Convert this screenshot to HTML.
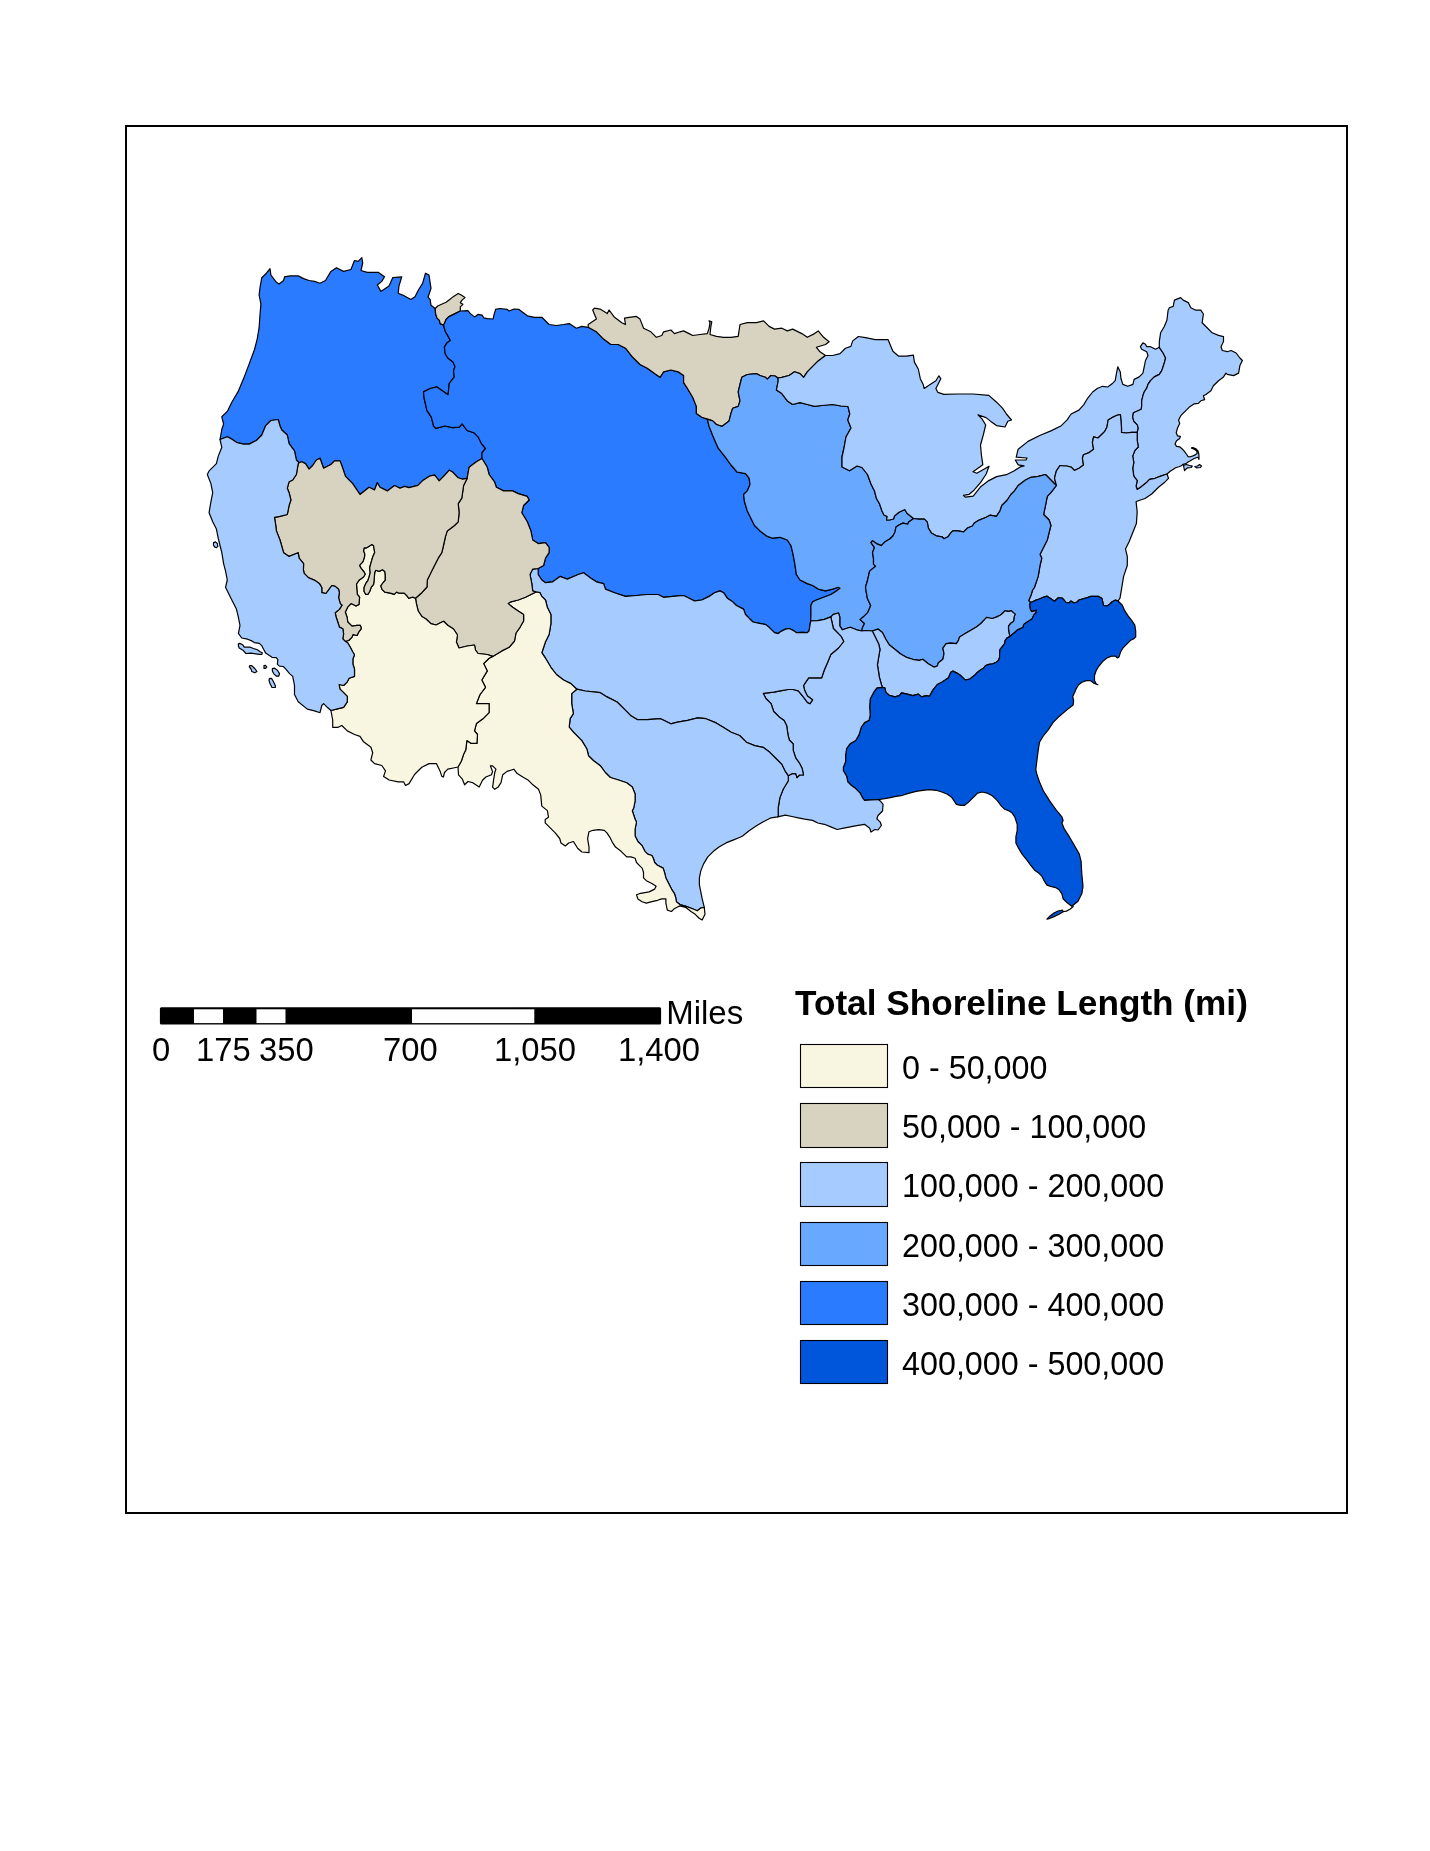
<!DOCTYPE html>
<html><head><meta charset="utf-8"><title>Total Shoreline Length</title>
<style>
html,body{margin:0;padding:0;background:#fff;}
body{width:1430px;height:1851px;position:relative;overflow:hidden;}
svg{position:absolute;left:0;top:0;will-change:transform;}
text{font-family:"Liberation Sans",sans-serif;fill:#000;}
</style></head>
<body>
<svg width="1430" height="1851" viewBox="0 0 1430 1851">
<rect x="126" y="126" width="1221" height="1387" fill="none" stroke="#000" stroke-width="2"/>
<g stroke="#000" stroke-width="1.2" stroke-linejoin="round">
<path fill="#2a7bff" d="M220 439.5 221.8 429.5 223.6 424 221.8 416.8 227.3 411.4 231.8 402.3 238.2 391.4 243.6 378.6 249.1 364.1 254.5 349.5 257.3 338.6 259.1 327.7 260 315 260.9 304.1 259.1 295 260 287.7 261.8 277.7 266.4 273.2 270 268.6 270.9 275 276.4 282.3 279 284 283.6 280.5 284.5 276.8 290 275.9 298.2 275.9 303.6 278.6 309 280.5 314.5 281.4 320 283.2 325.5 280.5 330.9 271.4 336.4 267.7 343.6 271.4 350.9 269.5 354.5 260.5 358.2 261.4 361.8 257.7 362.7 263.2 361 270.5 367.3 272.3 378.2 272.3 384.5 276.8 381.8 281.4 377.3 285 380.9 291.4 389 285.9 392.7 277.7 401.8 276.8 399 285.9 398.2 293.2 404.5 295.9 410.9 299.5 415 296.8 418.4 290 422.6 283.4 425.5 273.2 429 275 431 288.4 428 297.2 430.1 299.3 431 305.2 435.2 308.5 435.6 313.6 436.9 317.8 439.4 320.3 440.2 323.6 443.6 325.3 445.2 331.2 448.6 337.1 450.3 340.4 446.9 342.9 444.4 347.1 445.2 353.8 447.8 358 453 362 455 366.5 453.5 371 454.3 376.8 449.2 383.5 448.1 394.7 444.8 392.4 436.9 386.9 430.2 388.5 423.5 391.9 424.1 398 426.9 410.3 431.3 417.1 433.6 426 435.8 428.3 444.8 426 452.6 427.7 459.3 427.1 462.1 423.8 467.1 430.5 473.8 432.7 478.3 437.2 481.7 443.9 485.5 448.5 482 452.7 482 458.5 476.4 461.8 469.1 467.3 467.1 478.4 462.7 479.2 458.2 477.8 452.6 472 449.2 470.2 444.8 475.2 439.2 480.8 434.7 475.2 430.2 475.8 422.4 480.8 417.9 485.3 409 487.6 404.5 486.4 400 488.2 394.5 485.5 387.3 490.9 380 487.3 377.3 482.7 374.5 490 369.1 487.3 360 494.5 356.4 489.1 352.7 483.6 345.5 476.4 341.8 465.5 340 460.9 334.5 460.9 330.9 464.5 323.6 468.2 320 458.2 316.4 460 312.7 465.5 309.1 469.1 305.5 463.6 301.8 461.8 299.1 462.7 296.4 460 294.5 450.9 289.1 443.6 287.3 435 281.8 430 280 426 278.2 419.5 270.9 420.5 265.5 425.9 261.8 435 256.4 440.5 249.1 444.1 243.6 444.1 236.4 442.3 230.9 438.6 227.3 436.8Z"/>
<path fill="#d8d3c1" d="M435.2 308.5 437.7 306 446.1 302.2 449.4 299.7 453.6 296.4 458.2 293.4 461.2 295.1 465 297.6 462 300.1 460.3 302.7 462.9 304.3 460.3 306.9 460.3 311 453.6 314.4 448.6 316.9 446.1 319.4 443.6 325.3 440.2 323.6 439.4 320.3 436.9 317.8 435.6 313.6Z"/>
<path fill="#2a7bff" d="M460.3 311 467.9 310.6 470.4 313.6 474.6 316.9 478 314.4 482.2 315.2 483.8 317.8 487.2 318.6 493.1 319 493.9 315.2 495.6 309.4 499.8 308.5 507.3 309.4 509 311 514 309 519 309.4 523.3 312.7 527.4 315.8 534.5 317.3 541.8 317.3 549.1 324.5 556.4 325.5 563.6 324.5 569.1 323.6 576.4 328.2 581.8 326.4 588.2 327.3 596.4 331.8 603.6 339.1 610.9 344.5 618.2 344.5 625.5 348.2 632.7 357.3 640 364.5 647.3 368.2 654.5 373.6 660 377.3 663.6 371.8 670.9 370 678.2 371.8 683.6 375.5 683.6 382.7 687.3 388.2 692.7 397.3 696.4 406.4 696.4 413.6 701.8 417.3 707.3 419.1 709.1 426.4 712.7 435.5 718.2 448.2 725.5 457.3 731 465 737 472 745.5 473.6 749.1 478.2 750 484.5 747.3 490.9 743.6 494.5 744.5 501.8 747.3 510.9 750.9 518.2 754.5 525.5 760 530.9 767.3 536.4 772.7 538.2 780 537.3 787.3 540 790.9 545.5 792.7 552.7 794.5 561.8 796.4 574.5 800 580 807.3 583.6 812.7 585.5 818.2 589.1 825.5 590.9 832.7 589.1 838.2 587.3 840 588.2 836.4 590.9 830.9 594.5 823.6 597.3 816.4 600 812.7 601.8 810.9 605.5 810.9 614.5 810.7 620.8 810 625 809.1 630.9 807.3 632.7 802.2 632.4 796.4 632.7 794.5 631.1 789.3 628.5 785.5 629.1 781.5 631.1 778.2 633.6 774.5 632.7 769.1 627.3 765.9 624.6 759.4 623.3 753 622 749.1 618.2 745.5 614.5 743.6 609.1 736.4 605.5 732.7 601.8 727.3 598.2 723.6 592.7 720 590.9 714.5 592.7 709.1 596.4 701.8 600 694.5 600.9 689.1 598.2 683.6 595.5 672.7 596.4 663.6 597.3 658.2 594.5 647.3 594.5 636.4 595.5 625.5 596.4 614.5 592.7 605.5 589.1 603.6 583.6 596.4 581.8 590.9 578.2 583.6 572.7 578.2 574.5 567.3 579.1 560 576.4 552.7 581.8 545.5 582.7 541.8 580 538.2 574.5 538.2 568.5 543.6 565.5 545.5 558.2 549.1 552.7 549.1 547.3 545.5 542.7 538.2 543.6 532.7 540 530.9 530.9 527.3 521.8 521.8 512.7 523.6 505.5 529.1 500 527.3 496.4 518.2 493.6 512.7 490.9 503.6 490.9 496.4 487.3 494.5 481.8 489.1 474.5 487.3 467.3 482 458.5 482 452.7 485.5 448.5 481.7 443.9 478.3 437.2 473.8 432.7 467.1 430.5 462.1 423.8 459.3 427.1 452.6 427.7 444.8 426 435.8 428.3 433.6 426 431.3 417.1 426.9 410.3 424.1 398 423.5 391.9 430.2 388.5 436.9 386.9 444.8 392.4 448.1 394.7 449.2 383.5 454.3 376.8 453.5 371 455 366.5 453 362 447.8 358 445.2 353.8 444.4 347.1 446.9 342.9 450.3 340.4 448.6 337.1 445.2 331.2 443.6 325.3 446.1 319.4 448.6 316.9 453.6 314.4Z"/>
<path fill="#d8d3c1" d="M588.2 327.3 588.2 324.5 596.4 319.1 592.7 310 594.5 308.2 600 309.1 607.3 313.6 609.1 310 614.5 317.3 621.8 322.7 625.5 324.5 624.5 318.2 629.1 317.3 636.4 316.4 640 319.1 643.6 328.2 650.9 331.8 656.4 337.3 661.8 335.5 663.6 331.8 670.9 330 674.5 333.6 680 331.8 683.6 330.9 689.1 333.6 692.7 335.5 700 334.5 707.3 333.6 709.1 328.2 710 322.7 709.1 320.9 711.8 321.8 710.9 326.4 710 334.5 716.4 336.4 723.6 337.3 730.9 337.3 738.2 336.4 740 324.5 747.3 322.7 756.4 322.7 763.6 320.9 769.1 326.4 774.5 329.1 781.8 328.2 787.3 330.9 792.7 329.1 801.8 333.6 807.3 337.3 814.5 333.6 818.2 330.9 823.6 337.3 829.1 341.8 825.5 344.5 816.4 347.3 820 351.8 825.5 355.5 818.2 360.9 812.7 366.4 807.3 371.8 803.6 377.3 800 373.6 794.5 371.8 789.1 375.5 781.8 377.3 778 378 775 376 770.9 375.5 767.3 379.1 765.5 377.3 760 375.5 756.4 373.6 747.3 374.5 741.8 377.3 740 384.5 738.2 391.8 740 400.9 738.2 406.4 732.7 408.2 730.9 413.6 729.1 420.9 721.8 426.4 716.4 424.5 712.7 420.9 707.3 419.1 701.8 417.3 696.4 413.6 696.4 406.4 692.7 397.3 687.3 388.2 683.6 382.7 683.6 375.5 678.2 371.8 670.9 370 663.6 371.8 660 377.3 654.5 373.6 647.3 368.2 640 364.5 632.7 357.3 625.5 348.2 618.2 344.5 610.9 344.5 603.6 339.1 596.4 331.8Z"/>
<path fill="#68a8ff" d="M707.3 419.1 712.7 420.9 716.4 424.5 721.8 426.4 729.1 420.9 730.9 413.6 732.7 408.2 738.2 406.4 740 400.9 738.2 391.8 740 384.5 741.8 377.3 747.3 374.5 756.4 373.6 760 375.5 765.5 377.3 767.3 379.1 770.9 375.5 775 376 778 378 778.2 381 776.4 390 781.8 393.6 787.3 400.9 792.7 404.5 800 402.7 807.3 404.5 814.5 406.4 821.8 405.5 832.7 404.5 841 406 848 406.5 849.8 414 847.8 420 851 428 846 437 844 448 842 457 842 467 849.5 470.8 857 466 862 467.5 867.5 474.5 871 484 874.5 491 876.5 498.6 879.4 503.5 882 511 884 515 887.2 516.5 886.5 520 889.5 520 893.5 519 894.5 516 899 512.3 904.8 509.5 907 513.3 910.7 516.2 913.6 518.5 908.7 522.1 907.8 524.1 902.9 523.1 899 525 896 527 895 531.9 893.1 535.8 890.1 538.7 885.2 541.7 881.3 545.6 876.4 543.6 872.5 540.7 871 542.7 874.5 547.6 872.5 552.4 873.5 558.3 873.5 564.2 875.5 566.2 869.6 571.1 867.6 580 865.5 587.3 867.3 598.2 870.7 605.6 867.9 612.3 863.4 616.8 860.1 619.6 864.5 623.5 862.3 628 861.9 631 856.7 629.8 850.2 627.2 842.4 629.8 839.8 625.9 839.8 616.9 838.5 613 833.4 614.3 830.8 616.9 824.3 619.4 817.8 620.7 810.7 620.8 810.9 614.5 810.9 605.5 812.7 601.8 816.4 600 823.6 597.3 830.9 594.5 836.4 590.9 840 588.2 838.2 587.3 832.7 589.1 825.5 590.9 818.2 589.1 812.7 585.5 807.3 583.6 800 580 796.4 574.5 794.5 561.8 792.7 552.7 790.9 545.5 787.3 540 780 537.3 772.7 538.2 767.3 536.4 760 530.9 754.5 525.5 750.9 518.2 747.3 510.9 744.5 501.8 743.6 494.5 747.3 490.9 750 484.5 749.1 478.2 745.5 473.6 737 472 731 465 725.5 457.3 718.2 448.2 712.7 435.5 709.1 426.4Z"/>
<path fill="#a6cbff" d="M825.5 355.5 832.7 355.5 840 353.6 845.5 348.2 850.9 346.4 852.7 340.9 858.4 336.5 865.5 337.6 875.2 339.6 888 339.6 892.9 351.3 898.7 356.2 906.6 356.2 913.4 355.2 914.4 362.1 918.3 369 920.3 378.7 923.2 384.6 924.2 388.5 930.1 384.6 935.9 380.7 938.9 375.8 940.8 378.7 935.9 388.5 937.9 392.4 943.8 394.4 957.5 394 973.2 394 988.8 395.4 996.6 402.2 1002.5 408.1 1006.4 414 1011.5 420 1007.8 421.3 1005 427 996.5 425.6 990.8 421.4 986 417.6 978 414.8 982 418.9 985.7 425 983.4 434.5 980.5 445 981.4 455 982.8 464.7 977.6 468.5 973 471.8 976.8 473.2 985.2 468.5 989 466.2 986.2 474 980.5 482.6 974 490.2 969.2 494.3 963.4 495.3 965.3 497.2 973.2 496.2 981 486.4 988.8 480.6 996.6 476.6 1006.4 474.7 1014.3 470.8 1020.1 466.9 1024.1 465.9 1018.2 464.9 1015.3 460 1026 460 1027 458 1016.2 457.1 1018.2 449.2 1028 441.4 1039.7 435.5 1051.5 430.6 1061.3 425.7 1067.1 419.9 1071.1 414 1078.9 410.1 1083.8 404.6 1087.6 398.3 1092.6 392 1097.6 388.2 1102.7 386.3 1107.7 387 1112.7 383.2 1115.2 380.7 1116.5 373.1 1117.8 366.8 1120.3 371.9 1120.9 378.2 1122.8 384.4 1127.8 386.3 1132.9 384.4 1134.1 379.4 1139.2 376.9 1142.9 373.1 1144.2 366.8 1145.5 360.5 1148 355.5 1146.7 351.7 1141.7 349.2 1140.4 346.7 1142.9 342.9 1145.5 344.2 1146.7 346.7 1150.5 346.7 1155.5 349.2 1159.3 347.3 1163.1 353 1165.6 358 1164.3 363 1161.8 370.6 1159.3 374.4 1154.3 376.9 1150.5 380.7 1148 384.4 1146.7 388.2 1144.2 392 1142.9 395.8 1141.7 400.8 1141.7 405.8 1141.2 409.3 1137.5 411 1133.4 412.8 1132.7 416.8 1133.8 421.3 1137.2 424.6 1138.3 428 1137.2 432.4 1131.6 432.4 1126 433 1121.5 432.4 1121.5 428 1121 421.3 1120.4 414.5 1115.9 415.7 1111.5 417.9 1108.1 420.1 1107 426.9 1104.8 431.3 1101.4 434.7 1098 438 1093.6 436.9 1092.4 442.5 1093.6 449.2 1089.1 452.6 1083.5 454.8 1082.4 458.2 1083.5 464.9 1079 468.3 1074.5 470.5 1071.2 467.1 1066.7 466 1063.4 466 1060 465.5 1056.4 470.9 1054.5 478.2 1056.4 485.5 1050.9 480 1045.5 474.5 1038.2 476.4 1030.9 477.3 1025.5 480 1018.2 485.5 1014.5 490.9 1010.9 494.5 1007.3 500 1001.8 505.5 1000 510.9 996.4 516.4 990 515.2 986.1 517.2 979.2 520.1 974.3 523.1 972.4 526 967.5 528 963.6 531.9 957.7 530.9 952.8 530.9 950.8 532.9 947.9 536.8 944 538.7 942 536.8 936.2 535.8 931.3 532.9 928.3 528 927.3 522.1 924.4 519.2 918.5 519.2 913.6 518.5 910.7 516.2 907 513.3 904.8 509.5 899 512.3 894.5 516 893.5 519 889.5 520 886.5 520 887.2 516.5 884 515 882 511 879.4 503.5 876.5 498.6 874.5 491 871 484 867.5 474.5 862 467.5 857 466 849.5 470.8 842 467 842 457 844 448 846 437 851 428 847.8 420 849.8 414 848 406.5 841 406 832.7 404.5 821.8 405.5 814.5 406.4 807.3 404.5 800 402.7 792.7 404.5 787.3 400.9 781.8 393.6 776.4 390 778.2 381 778 378 781.8 377.3 789.1 375.5 794.5 371.8 800 373.6 803.6 377.3 807.3 371.8 812.7 366.4 818.2 360.9Z"/>
<path fill="#a6cbff" d="M1159.3 347.3 1159.3 341.6 1160.6 332.8 1164.3 326.5 1166.9 320.2 1168.1 310.2 1169.4 307.7 1173.2 306.4 1174.4 300.1 1180.7 297.6 1183.2 300.1 1188.3 302.6 1190.8 307.7 1195.8 310.2 1200.8 310.2 1203.4 314 1202.1 322.8 1205.9 326.5 1212.2 332.8 1218.5 335.4 1223.5 336.6 1223.5 341.6 1221 346.7 1222.3 350.5 1227.3 351.7 1231.1 350.5 1236.1 353 1239.9 358 1242.4 360.5 1239.9 365.6 1238.6 373.1 1233.6 375.6 1227.3 374.4 1226 373.1 1223.5 376.9 1218.5 380.7 1213.4 385.7 1210.9 390.7 1205.9 394.5 1203.4 395.8 1204.6 399.6 1200.8 400.8 1198.3 403.3 1194.3 403.8 1189.8 406.7 1185.3 411.2 1180.8 415.7 1178.6 420.1 1179.7 423.5 1177.5 428 1176.2 432.8 1177.6 435.9 1180.4 436.3 1179.7 438.4 1176.5 440.8 1175.1 444 1176.5 446.4 1179.7 446.8 1182.5 449.2 1184.6 451.7 1186.7 454.5 1188.1 456.6 1190.2 456.8 1193 455.9 1195.6 454.6 1197.2 453.6 1196.8 451.2 1195.2 449.8 1193 448.6 1191.5 448.2 1191.8 447.5 1193.4 447.7 1196 448.8 1197.9 450.8 1198.8 453.6 1199 456.5 1198.9 459.4 1198.2 457.6 1197.5 457.3 1193.7 458.7 1190.2 460.8 1187.7 462.2 1186 463.6 1183.2 464.3 1181.4 465.7 1179 466.7 1175.5 467.8 1173.4 469.2 1170.2 471.3 1167 474 1160.7 476.1 1155.1 478.3 1149.5 479.4 1146.2 482.8 1140.6 487.3 1137.2 489.5 1136.1 486.2 1137.2 480.6 1133.8 476.1 1132.7 468.3 1133.8 462.7 1132.7 455.9 1135 450.3 1138.3 447 1137.2 440.3 1137.2 432.4 1138.3 428 1137.2 424.6 1133.8 421.3 1132.7 416.8 1133.4 412.8 1137.5 411 1141.2 409.3 1141.7 405.8 1141.7 400.8 1142.9 395.8 1144.2 392 1146.7 388.2 1148 384.4 1150.5 380.7 1154.3 376.9 1159.3 374.4 1161.8 370.6 1164.3 363 1165.6 358 1163.1 353Z"/>
<path fill="#a6cbff" d="M1056.4 485.5 1054.5 478.2 1056.4 470.9 1060 465.5 1063.4 466 1066.7 466 1071.2 467.1 1074.5 470.5 1079 468.3 1083.5 464.9 1082.4 458.2 1083.5 454.8 1089.1 452.6 1093.6 449.2 1092.4 442.5 1093.6 436.9 1098 438 1101.4 434.7 1104.8 431.3 1107 426.9 1108.1 420.1 1111.5 417.9 1115.9 415.7 1120.4 414.5 1121 421.3 1121.5 428 1121.5 432.4 1126 433 1131.6 432.4 1137.2 432.4 1137.2 440.3 1138.3 447 1135 450.3 1132.7 455.9 1133.8 462.7 1132.7 468.3 1133.8 476.1 1137.2 480.6 1136.1 486.2 1137.2 489.5 1140.6 487.3 1146.2 482.8 1149.5 479.4 1155.1 478.3 1160.7 476.1 1167 474 1168.5 478.3 1164.1 482.8 1158.5 487.3 1151.7 494 1145 498.5 1138.3 500.7 1136.1 501.8 1137.2 511.9 1136.4 523.6 1132.7 532.7 1129.1 541.8 1125.5 549.1 1127.3 556.4 1127.3 565.5 1123.6 576.4 1121.8 587.3 1120 598.2 1118 601 1115.5 600 1112.2 601.7 1109.6 604.2 1107.1 605.9 1103.6 605.5 1101.8 598.2 1098.2 596.4 1090.9 596.4 1085.5 598.2 1079 600 1077 602 1074 603 1071 601 1069 603 1066 602.5 1064 600 1062 598 1058.3 597.8 1054.4 601.2 1050.5 598.4 1047.1 596.2 1043.2 597.3 1039.3 599 1035.9 600.1 1032.6 601.7 1030.5 602.5 1028.7 600.6 1030.9 595.6 1032.6 590 1034.5 587.3 1038.2 576.4 1040 565.5 1041.8 558.2 1040 554.5 1043.6 547.3 1047.3 540 1049.1 532.7 1050.9 525.5 1049.1 520 1043.6 514.5 1045.5 505.5 1047.3 496.4 1050.9 492.7Z"/>
<path fill="#68a8ff" d="M913.6 518.5 918.5 519.2 924.4 519.2 927.3 522.1 928.3 528 931.3 532.9 936.2 535.8 942 536.8 944 538.7 947.9 536.8 950.8 532.9 952.8 530.9 957.7 530.9 963.6 531.9 967.5 528 972.4 526 974.3 523.1 979.2 520.1 986.1 517.2 990 515.2 996.4 516.4 1000 510.9 1001.8 505.5 1007.3 500 1010.9 494.5 1014.5 490.9 1018.2 485.5 1025.5 480 1030.9 477.3 1038.2 476.4 1045.5 474.5 1050.9 480 1056.4 485.5 1050.9 492.7 1047.3 496.4 1045.5 505.5 1043.6 514.5 1049.1 520 1050.9 525.5 1049.1 532.7 1047.3 540 1043.6 547.3 1040 554.5 1041.8 558.2 1040 565.5 1038.2 576.4 1034.5 587.3 1032.6 590 1030.9 595.6 1028.7 600.6 1030.5 602.5 1029.8 604 1030.3 609 1031.5 611.3 1036.5 610.1 1035.9 612.9 1033.7 615.2 1032 619.1 1029.2 620.8 1026.4 622.4 1023.6 624.7 1023.1 627.5 1020.3 628.6 1016.9 630.3 1014.7 632.5 1011.9 634.8 1010.2 636.4 1009.1 633.6 1008.5 629.2 1008.5 625.8 1010.8 623 1013.6 621.3 1014.1 616.9 1015.2 614.1 1013 612.4 1011.3 610.7 1009.1 611.3 1007.4 611.3 1005.2 610.7 1002.4 613.5 1000.1 615.2 996.8 616.9 992.3 618.5 989.5 618 986.7 617.4 984.5 619.7 980.9 623.5 976.4 626.9 970.8 630.2 965.2 633.6 959.6 636.9 958.5 640.3 956.3 643.6 950.7 643.1 946.2 643.6 942.9 648.1 944 653.7 942.9 659.3 938.4 662.7 937.3 666 933.9 667.1 928.3 663.8 922.7 659.3 919.4 660.4 912.7 659.3 905.9 657.1 900.3 653.7 894.8 649.2 889.2 644.8 885.8 639.2 882.4 632.4 878 629.1 872.3 631 866 630.5 861.9 631 862.3 628 864.5 623.5 860.1 619.6 863.4 616.8 867.9 612.3 870.7 605.6 867.3 598.2 865.5 587.3 867.6 580 869.6 571.1 875.5 566.2 873.5 564.2 873.5 558.3 872.5 552.4 874.5 547.6 871 542.7 872.5 540.7 876.4 543.6 881.3 545.6 885.2 541.7 890.1 538.7 893.1 535.8 895 531.9 896 527 899 525 902.9 523.1 907.8 524.1 908.7 522.1Z"/>
<path fill="#a6cbff" d="M872.3 631 878 629.1 882.4 632.4 885.8 639.2 889.2 644.8 894.8 649.2 900.3 653.7 905.9 657.1 912.7 659.3 919.4 660.4 922.7 659.3 928.3 663.8 933.9 667.1 937.3 666 938.4 662.7 942.9 659.3 944 653.7 942.9 648.1 946.2 643.6 950.7 643.1 956.3 643.6 958.5 640.3 959.6 636.9 965.2 633.6 970.8 630.2 976.4 626.9 980.9 623.5 984.5 619.7 986.7 617.4 989.5 618 992.3 618.5 996.8 616.9 1000.1 615.2 1002.4 613.5 1005.2 610.7 1007.4 611.3 1009.1 611.3 1011.3 610.7 1013 612.4 1015.2 614.1 1014.1 616.9 1013.6 621.3 1010.8 623 1008.5 625.8 1008.5 629.2 1009.1 633.6 1010.2 636.4 1006.9 638.1 1005.2 640.3 1004.6 643.7 1002.4 646.5 1000.1 649.3 999.6 652.7 999.6 657.1 998.5 660.5 996.2 662.2 992.9 663.8 989 664.4 985.6 665.5 983.4 668.3 980.5 670 977.6 672.2 974.3 675.6 969.8 679 965.3 680.1 960.8 675.6 957.5 673.4 953 671.1 950.8 672.2 948.5 677.8 945.2 680.1 941.8 682.3 937.3 684.5 932.9 690.1 929.5 696.3 926.2 695.7 921.7 696.9 918.3 694.1 912.7 695.7 907.1 694.1 901.5 692.9 899.3 695.7 894.8 696.9 889.2 695.2 885.9 692.4 884.8 687.9 882.3 687.3 881.4 684.5 879.2 676.7 878.7 672.6 877.4 664.8 878.7 657 880 649.3 878.7 644.1 874.9 636.3Z"/>
<path fill="#0056da" d="M1030.5 602.5 1032.6 601.7 1035.9 600.1 1039.3 599 1043.2 597.3 1047.1 596.2 1050.5 598.4 1054.4 601.2 1058.3 597.8 1062 598 1064 600 1066 602.5 1069 603 1071 601 1074 603 1077 602 1079 600 1085.5 598.2 1090.9 596.4 1098.2 596.4 1101.8 598.2 1103.6 605.5 1107.1 605.9 1109.6 604.2 1112.2 601.7 1115.5 600 1118 601 1122.2 605 1124.8 610.9 1128.1 615.9 1131.5 620.1 1134.8 625.2 1135.7 631 1135.7 636.9 1134 638.6 1130.6 640.3 1127.3 643.6 1123.1 647.8 1120.6 652 1118.9 657.1 1117.2 657.9 1115.5 656.2 1111.3 656.2 1107.1 657.9 1102.9 661.3 1098.7 666.3 1096.2 670.5 1094.5 675.5 1094.5 680.6 1096.2 683.9 1097.9 684.8 1093.7 683.1 1090.3 680.6 1086.2 680.6 1082 682.2 1078.6 684.8 1076.1 688.9 1074.4 693.1 1072.7 696.5 1073.6 700.7 1073.1 705 1066.9 709.9 1059.4 716.2 1053.2 722.4 1048.2 729.8 1043.3 736 1039.5 742.2 1038.3 749.7 1037 759.6 1035.8 769.6 1037 774.6 1039.5 782 1043.3 790.7 1049.5 800.6 1055.7 809.3 1061.9 816.8 1063.1 820.5 1061.9 823 1064.4 829.2 1069.3 836.7 1074.3 845.4 1079.3 854.1 1081.1 861.5 1081.8 874 1083 886.4 1081.8 893.8 1078 901.3 1071.8 906.3 1066.9 902.5 1063.1 898.8 1061.9 893.8 1059.4 890.1 1055.7 887.6 1050.7 886.4 1047 885.1 1044.5 881.4 1042 876.4 1038.3 872.7 1034.6 870.2 1030.8 865.3 1027.1 860.3 1022.1 854.1 1018.4 847.9 1015.9 842.9 1015.9 836.7 1017.2 830.5 1017.2 824.3 1014.7 816.8 1012.2 813.1 1008.5 810.6 1004.7 809.3 1001 805.6 997.3 800.6 992.3 795.7 987.3 793.2 982.2 792 977.6 793.1 975.4 795.3 972 798.7 968.7 802 964.2 805.4 960.8 805.4 956.4 804.3 954.1 800.9 951.9 797.6 947.4 794.2 941.8 792 936.2 790.3 929.5 789.7 922.8 790.3 916.1 791.4 909.4 793.1 902.7 795.3 895.9 796.4 890.3 797.6 884.8 798.7 878 799.6 871.3 799.8 864.6 800.3 862.4 797.6 860.1 793.1 855.7 788.6 851.2 785.2 847.8 781.9 846.7 776.3 843.4 770.7 843.4 767.3 845.6 761.7 845.6 755 846.7 748.3 850.1 743.8 855.7 740.5 859 734.9 861.3 727.1 864.6 722.6 869.1 720.3 870.2 714.8 869.7 706.9 870.2 699.1 873.6 692.4 876.9 687.9 882.3 687.3 884.8 687.9 885.9 692.4 889.2 695.2 894.8 696.9 899.3 695.7 901.5 692.9 907.1 694.1 912.7 695.7 918.3 694.1 921.7 696.9 926.2 695.7 929.5 696.3 932.9 690.1 937.3 684.5 941.8 682.3 945.2 680.1 948.5 677.8 950.8 672.2 953 671.1 957.5 673.4 960.8 675.6 965.3 680.1 969.8 679 974.3 675.6 977.6 672.2 980.5 670 983.4 668.3 985.6 665.5 989 664.4 992.9 663.8 996.2 662.2 998.5 660.5 999.6 657.1 999.6 652.7 1000.1 649.3 1002.4 646.5 1004.6 643.7 1005.2 640.3 1006.9 638.1 1010.2 636.4 1011.9 634.8 1014.7 632.5 1016.9 630.3 1020.3 628.6 1023.1 627.5 1023.6 624.7 1026.4 622.4 1029.2 620.8 1032 619.1 1033.7 615.2 1035.9 612.9 1036.5 610.1 1031.5 611.3 1030.3 609 1029.8 604Z"/>
<path fill="#a6cbff" d="M830.8 616.9 833.4 614.3 838.5 613 839.8 616.9 839.8 625.9 842.4 629.8 850.2 627.2 856.7 629.8 861.9 631 866 630.5 872.3 631 874.9 636.3 878.7 644.1 880 649.3 878.7 657 877.4 664.8 878.7 672.6 879.2 676.7 881.4 684.5 882.3 687.3 876.9 687.9 873.6 692.4 870.2 699.1 869.7 706.9 870.2 714.8 869.1 720.3 864.6 722.6 861.3 727.1 859 734.9 855.7 740.5 850.1 743.8 846.7 748.3 845.6 755 845.6 761.7 843.4 767.3 843.4 770.7 846.7 776.3 847.8 781.9 851.2 785.2 855.7 788.6 860.1 793.1 862.4 797.6 864.6 800.3 871.3 799.8 878 799.6 880.3 800.9 883.1 804.3 882.5 811 878 815.5 876.9 818.8 880.3 822.2 881.4 825.5 878 830 874.9 829.5 871 832.1 869.7 828.2 864.5 824.3 856.7 825.6 850.2 826.9 843.7 828.2 837.2 829.5 830.8 826.9 824.3 824.3 817.8 823 812.6 820.4 804.8 819.1 798.3 817.8 791.9 816.5 785.4 815.2 777.6 816.8 778.2 816.1 778.2 807.7 779.9 797.6 783.2 789.2 788.3 780.8 788.3 775.8 791.9 773.7 795.8 773.7 797 777.6 799.6 775 803.5 775 802.2 768.6 799.6 763.4 795.8 758.2 793.2 750.4 793.2 743.9 789.3 740 788 734.8 786.7 725.8 784.1 720.6 778.9 716.7 773.7 711.5 771.1 703.7 765.9 698.5 763.3 693.4 773.7 692.1 780.2 690.8 788 689.5 793.2 689.5 798.3 690.8 803.5 697.2 807.4 702.4 810 703.7 812.6 699.8 807.4 695.9 804.8 690.8 803.5 685.6 806.1 681.7 808.7 677.8 813.9 677.8 821.7 677.8 824.3 670 828.2 660.9 830.8 654.5 838.5 648 843.7 641.5 841.1 636.3 833.4 628.5Z"/>
<path fill="#a6cbff" d="M538.2 568.5 538.2 574.5 541.8 580 545.5 582.7 552.7 581.8 560 576.4 567.3 579.1 578.2 574.5 583.6 572.7 590.9 578.2 596.4 581.8 603.6 583.6 605.5 589.1 614.5 592.7 625.5 596.4 636.4 595.5 647.3 594.5 658.2 594.5 663.6 597.3 672.7 596.4 683.6 595.5 689.1 598.2 694.5 600.9 701.8 600 709.1 596.4 714.5 592.7 720 590.9 723.6 592.7 727.3 598.2 732.7 601.8 736.4 605.5 743.6 609.1 745.5 614.5 749.1 618.2 753 622 759.4 623.3 765.9 624.6 769.1 627.3 774.5 632.7 778.2 633.6 781.5 631.1 785.5 629.1 789.3 628.5 794.5 631.1 796.4 632.7 802.2 632.4 807.3 632.7 809.1 630.9 810 625 810.7 620.8 817.8 620.7 824.3 619.4 830.8 616.9 833.4 628.5 841.1 636.3 843.7 641.5 838.5 648 830.8 654.5 828.2 660.9 824.3 670 821.7 677.8 813.9 677.8 808.7 677.8 806.1 681.7 803.5 685.6 804.8 690.8 807.4 695.9 812.6 699.8 810 703.7 807.4 702.4 803.5 697.2 798.3 690.8 793.2 689.5 788 689.5 780.2 690.8 773.7 692.1 763.3 693.4 765.9 698.5 771.1 703.7 773.7 711.5 778.9 716.7 784.1 720.6 786.7 725.8 788 734.8 789.3 740 793.2 743.9 793.2 750.4 795.8 758.2 799.6 763.4 802.2 768.6 803.5 775 799.6 775 797 777.6 795.8 773.7 791.9 773.7 788.3 775.8 784.9 770.8 781.6 764.1 776.5 759 769.8 752.3 763.1 747.3 754.7 745.6 746.3 742.2 739.6 735.5 731.2 732.2 722.8 727.1 716.1 722.9 706 718.7 697.6 717.9 687.6 720.4 677.5 722.1 670.8 723.8 660.7 718.7 647.3 719.6 637.2 719.6 630.5 715.4 623.8 708.7 617.1 702 607 696.9 600.3 692.7 585.2 691 576.8 689.2 570.9 683.6 563.6 680 556.4 674.5 550.9 667.3 545.5 658.2 541.8 652.7 545.5 641.8 549.1 634.5 550.9 623.6 550.9 614.5 547.3 607.3 545.5 600 541.8 596.4 540 592.7 536 592 532.7 590.9 531.8 583.6 530 574.5 532.7 569.1Z"/>
<path fill="#a6cbff" d="M576.8 689.2 585.2 691 600.3 692.7 607 696.9 617.1 702 623.8 708.7 630.5 715.4 637.2 719.6 647.3 719.6 660.7 718.7 670.8 723.8 677.5 722.1 687.6 720.4 697.6 717.9 706 718.7 716.1 722.9 722.8 727.1 731.2 732.2 739.6 735.5 746.3 742.2 754.7 745.6 763.1 747.3 769.8 752.3 776.5 759 781.6 764.1 784.9 770.8 788.3 775.8 788.3 780.8 783.2 789.2 779.9 797.6 778.2 807.7 778.2 816.1 777.6 816.8 771.1 817.8 763.3 821.7 756.9 825.6 749.1 830.8 742.6 836 740 837.3 733 840.1 726 842.9 719 847.1 713.4 851.3 707.8 856.9 703.6 863.9 700.8 870.9 699.4 877.9 699.4 884.9 700.8 891.9 702.2 898.9 704.3 907.3 700.8 908 697.3 910.8 692.4 908.7 686.9 906.6 679.9 904.5 676.4 901.7 675.7 897.5 674.3 893.3 671.5 889.1 668.7 883.5 665.9 877.9 664.5 872.3 663.1 868.1 657.5 865.3 654.7 862.5 653.3 858.3 651.9 855.5 647.7 854.1 644.9 851.3 642.1 845.7 637.9 841.5 635.1 835.9 635.1 829 636.5 822 635.1 819.2 632.3 810.8 633.7 808 635.1 801 635.1 794 632.3 787 626.7 782.8 618.5 780 610.4 777.5 605.3 772.5 600.3 765.7 593.6 760.7 588.5 755.7 586.9 749 581.8 740.6 573.4 732.2 569.2 727.1 570.1 718.7 573.4 713.7 571.7 703.6 571.7 693.6Z"/>
<path fill="#f8f6e0" d="M536 592 540 592.7 541.8 596.4 545.5 600 547.3 607.3 550.9 614.5 550.9 623.6 549.1 634.5 545.5 641.8 541.8 652.7 545.5 658.2 550.9 667.3 556.4 674.5 563.6 680 570.9 683.6 576.8 689.2 571.7 693.6 571.7 703.6 573.4 713.7 570.1 718.7 569.2 727.1 573.4 732.2 581.8 740.6 586.9 749 588.5 755.7 593.6 760.7 600.3 765.7 605.3 772.5 610.4 777.5 618.5 780 626.7 782.8 632.3 787 635.1 794 635.1 801 633.7 808 632.3 810.8 635.1 819.2 636.5 822 635.1 829 635.1 835.9 637.9 841.5 642.1 845.7 644.9 851.3 647.7 854.1 651.9 855.5 653.3 858.3 654.7 862.5 657.5 865.3 663.1 868.1 664.5 872.3 665.9 877.9 668.7 883.5 671.5 889.1 674.3 893.3 675.7 897.5 676.4 901.7 679.9 904.5 686.9 906.6 692.4 908.7 697.3 910.8 700.8 908 704.3 907.3 705 914.3 702.2 919.9 699.4 918.5 695.2 914.3 691 911.5 685.5 907.3 679.9 905.9 677.1 907.3 674.3 908.7 671.5 911.5 667.3 910.1 665.9 903.1 665.9 898.9 661.7 898.9 657.5 900.3 651.9 901.7 646.3 903.1 642.1 901.7 637.9 898.9 636.5 894.7 640.7 893.3 649.1 891.9 654.7 889.1 656.1 886.3 651.9 883.5 646.3 880.7 643.5 877.9 643.5 872.3 642.1 868.1 639.3 865.3 636.5 862.5 635.1 858.3 630.9 856.9 626.7 856.9 623.9 854.1 621.1 851.3 615.5 847.1 612.7 842.9 609.9 837.3 607.1 833.1 604.3 830.3 598.7 829.7 593.1 830.3 589 831.7 587.6 838.7 589 847.1 589 852.7 582 852 577.8 848.5 573.4 841.5 568.7 843 565.3 846 561 843 559.7 838.5 555.2 832.9 549.7 827.3 545.2 822.9 545.2 819.5 548.5 817.3 547.4 810.6 541.8 806.1 540.7 794.9 538.5 789.3 532.9 784.8 528.4 780.3 522.8 777 517.2 773.6 513.8 769.2 507.1 771.4 502.7 774.8 501 782.6 498.2 787.1 494.8 789.3 492.6 787.1 493.7 779.2 494.8 772.5 495.9 769.2 492.6 765.8 490.3 765.8 492.6 771.4 491.5 774.8 485.9 777 482.5 780.3 479.2 787.1 472.4 782.6 468 781.5 464.6 784.8 462.4 779.2 458.5 774.8 458 767 461.3 761.3 463.5 754.6 465.7 750.1 466.9 740.6 471.3 743.4 476.9 743.4 477.5 734.5 474.5 730.9 476.4 723.6 483.6 718.2 489.1 712.7 489.1 703.6 476.4 703.6 480 694.5 485.5 687.3 481.8 680 487.3 670.9 483.6 663.6 489.1 658.2 492.7 656.4 501.8 650.9 509.1 647.3 514.5 641 516 633 520 627.3 523.6 621 523.6 614.5 518.2 610.9 512.7 607.3 508.2 603.6 510.9 601.8 518.2 600 525.5 597.3 530.9 594.5Z"/>
<path fill="#d8d3c1" d="M482 458.5 487.3 467.3 489.1 474.5 494.5 481.8 496.4 487.3 503.6 490.9 512.7 490.9 518.2 493.6 527.3 496.4 529.1 500 523.6 505.5 521.8 512.7 527.3 521.8 530.9 530.9 532.7 540 538.2 543.6 545.5 542.7 549.1 547.3 549.1 552.7 545.5 558.2 543.6 565.5 538.2 568.5 532.7 569.1 530 574.5 531.8 583.6 532.7 590.9 536 592 530.9 594.5 525.5 597.3 518.2 600 510.9 601.8 508.2 603.6 512.7 607.3 518.2 610.9 523.6 614.5 523.6 621 520 627.3 516 633 514.5 641 509.1 647.3 501.8 650.9 492.7 656.4 487.3 654.5 478 653.5 475.5 650 474.5 645 467.3 646 459 648 456.4 642 457.5 635 453.5 629 448 625.5 443.6 621.3 436 625 430.9 623.6 426 619 421.8 616.4 418.2 611 416.4 603.6 415.5 598.3 421.8 592.7 427 587 427.3 580 432.7 569.1 438.2 558.2 441.8 552.7 443.6 545 445.5 536.4 447.3 530.9 454.5 525.5 458.2 521.8 459.1 512.7 458.2 503.6 461.8 498.2 463.6 485.5 467.1 478.4 469.1 467.3 476.4 461.8Z"/>
<path fill="#f8f6e0" d="M415.5 598.3 416.4 603.6 418.2 611 421.8 616.4 426 619 430.9 623.6 436 625 443.6 621.3 448 625.5 453.5 629 457.5 635 456.4 642 459 648 467.3 646 474.5 645 475.5 650 478 653.5 487.3 654.5 492.7 656.4 489.1 658.2 483.6 663.6 487.3 670.9 481.8 680 485.5 687.3 480 694.5 476.4 703.6 489.1 703.6 489.1 712.7 483.6 718.2 476.4 723.6 474.5 730.9 477.5 734.5 476.9 743.4 471.3 743.4 466.9 740.6 465.7 750.1 463.5 754.6 461.3 761.3 458 767 453.4 768 447.8 769.2 444.5 772.5 443.4 777 441.8 776.4 440 770.9 436.4 763.6 429.1 763.6 421.8 767.3 414.5 774.5 409.1 783.6 405.5 785.5 403.6 781.8 398.2 781.8 389.1 780 383.6 776.4 385.5 770.9 381.8 765.5 374.5 763.6 370.9 760 372.7 752.7 370.9 747.3 363.6 741.8 360 736.4 354.5 734.5 347.3 730.9 341.8 725.5 338.2 727.3 332.7 727.3 332.7 720 330.9 710.5 336.4 709.1 343.6 707.3 347.3 701.8 347.3 696.4 343.6 692.7 340 689.1 339.1 684.5 343.6 685.5 347.3 681.8 349.1 678.2 354.5 676.4 354.5 669.1 352.9 664 352.9 659 354.5 654.8 352.9 652.2 350.3 647.2 347.8 643 345.3 641.3 348.7 640.5 352 637.1 352.9 634.6 357.1 635.5 358.7 632.1 361.3 628.7 360.4 625.4 357.1 625.4 352 626.2 347.8 622 347 617 345.3 612 347.8 606.9 351.2 603.5 356 606 359 604.4 359.6 597.1 357.3 594.3 356.8 588.7 356.5 584 359 580.3 363.5 577 365.2 574.2 364.1 572 361.3 568.6 359.6 565.8 360.1 564.7 362.4 562.4 363.5 560.2 364.6 556.3 364.6 553.5 363.5 551.3 364.1 547.9 366.3 547.9 369.1 546.2 371.9 544.5 373.6 545.7 374.1 549 374.7 552.4 373 556.3 371.9 559.7 370.8 563.6 369.7 567.5 370.2 572.5 369.1 577 368 580.3 365.7 583.7 364.1 587.6 364.1 591.5 365.7 594.3 368 594.3 369.7 591.5 371.3 587.1 373.6 584.3 374.1 580.3 374.7 572.5 375.8 570.3 379.2 571.4 382.5 569.7 384.8 571.4 385.3 574.8 385.3 580.3 383.6 582 380.8 585.9 382 589.3 384.8 592.1 390.3 593.2 394.3 594.3 396.5 592.1 399.3 593.2 404.3 593.2 407.1 596 408.8 598.3 412.7 597.1Z"/>
<path fill="#d8d3c1" d="M299.1 462.7 301.8 461.8 305.5 463.6 309.1 469.1 312.7 465.5 316.4 460 320 458.2 323.6 468.2 330.9 464.5 334.5 460.9 340 460.9 341.8 465.5 345.5 476.4 352.7 483.6 356.4 489.1 360 494.5 369.1 487.3 374.5 490 377.3 482.7 380 487.3 387.3 490.9 394.5 485.5 400 488.2 404.5 486.4 409 487.6 417.9 485.3 422.4 480.8 430.2 475.8 434.7 475.2 439.2 480.8 444.8 475.2 449.2 470.2 452.6 472 458.2 477.8 462.7 479.2 467.1 478.4 463.6 485.5 461.8 498.2 458.2 503.6 459.1 512.7 458.2 521.8 454.5 525.5 447.3 530.9 445.5 536.4 443.6 545 441.8 552.7 438.2 558.2 432.7 569.1 427.3 580 427 587 421.8 592.7 415.5 598.3 412.7 597.1 408.8 598.3 407.1 596 404.3 593.2 399.3 593.2 396.5 592.1 394.3 594.3 390.3 593.2 384.8 592.1 382 589.3 380.8 585.9 383.6 582 385.3 580.3 385.3 574.8 384.8 571.4 382.5 569.7 379.2 571.4 375.8 570.3 374.7 572.5 374.1 580.3 373.6 584.3 371.3 587.1 369.7 591.5 368 594.3 365.7 594.3 364.1 591.5 364.1 587.6 365.7 583.7 368 580.3 369.1 577 370.2 572.5 369.7 567.5 370.8 563.6 371.9 559.7 373 556.3 374.7 552.4 374.1 549 373.6 545.7 371.9 544.5 369.1 546.2 366.3 547.9 364.1 547.9 363.5 551.3 364.6 553.5 364.6 556.3 363.5 560.2 362.4 562.4 360.1 564.7 359.6 565.8 361.3 568.6 364.1 572 365.2 574.2 363.5 577 359 580.3 356.5 584 356.8 588.7 357.3 594.3 359.6 597.1 359 604.4 356 606 351.2 603.5 347.8 606.9 345.3 612 347 617 347.8 622 352 626.2 357.1 625.4 360.4 625.4 361.3 628.7 358.7 632.1 357.1 635.5 352.9 634.6 352 637.1 348.7 640.5 345.3 641.3 342.8 638.8 343.6 633.8 342.8 628.7 339.4 627.1 337.8 622 336.1 617 335.2 612.8 339.4 609.4 342 605.2 340.3 603.6 338.6 597.7 339.4 592.7 338.6 589.3 335.2 586.4 331.9 585.5 328.5 590.1 326 593.5 321.8 592.7 321.8 587.6 319.3 583.4 314.3 580.1 308.4 577.6 304.2 573.4 303.4 570 303.6 563.6 299.1 558.2 298.2 552.7 289.1 556.4 283.6 552.7 280 540 276.4 530.9 275.5 523.6 274.5 517.3 280 516.4 287.3 514.5 289.1 505.5 290.9 500 289.1 492.7 287.3 488.2 289.1 481.8 292.7 480 296.4 474.5 298.2 463.6Z"/>
<path fill="#a6cbff" d="M220 439.5 227.3 436.8 230.9 438.6 236.4 442.3 243.6 444.1 249.1 444.1 256.4 440.5 261.8 435 265.5 425.9 270.9 420.5 278.2 419.5 280 426 281.8 430 287.3 435 289.1 443.6 294.5 450.9 296.4 460 299.1 462.7 298.2 463.6 296.4 474.5 292.7 480 289.1 481.8 287.3 488.2 289.1 492.7 290.9 500 289.1 505.5 287.3 514.5 280 516.4 274.5 517.3 275.5 523.6 276.4 530.9 280 540 283.6 552.7 289.1 556.4 298.2 552.7 299.1 558.2 303.6 563.6 303.4 570 304.2 573.4 308.4 577.6 314.3 580.1 319.3 583.4 321.8 587.6 321.8 592.7 326 593.5 328.5 590.1 331.9 585.5 335.2 586.4 338.6 589.3 339.4 592.7 338.6 597.7 340.3 603.6 342 605.2 339.4 609.4 335.2 612.8 336.1 617 337.8 622 339.4 627.1 342.8 628.7 343.6 633.8 342.8 638.8 345.3 641.3 347.8 643 350.3 647.2 352.9 652.2 354.5 654.8 352.9 659 352.9 664 354.5 669.1 354.5 676.4 349.1 678.2 347.3 681.8 343.6 685.5 339.1 684.5 340 689.1 343.6 692.7 347.3 696.4 347.3 701.8 343.6 707.3 336.4 709.1 330.9 710.5 327.3 707.3 323.6 703.6 321.8 705.5 320 712.7 314.5 710.9 307.3 709.1 298.2 701.8 294.5 694.5 294.5 685.5 292.7 676.4 289.6 673.6 285.4 668.6 283.3 666.5 279.5 666.1 277.4 664.4 277.8 659.4 276.2 657.7 272 657.3 265.7 653.1 263.6 649.3 261.9 645.9 259.4 643.4 254.3 642.6 251.8 640.9 247.6 639.2 241.7 638 238.4 633.4 240 625.5 238.2 616.4 236.4 609.1 232.7 601.8 229.1 594.5 225.5 587.3 227.3 580 225.5 570.9 223.6 563.6 221.8 552.7 220 545.5 218.2 538.2 216.4 529.1 212.7 521.8 209.1 512.7 210.9 501.8 212.7 492.7 210.9 483.6 207.3 474.5 209.1 470.9 216.4 463.6 218.2 456.4 221.8 447.3Z"/>
<path fill="#a6cbff" d="M1183.5 465.5 1186.5 464.5 1189.5 465.5 1192.3 466.2 1191 467.5 1187.5 467.8 1185.5 469.5 1184.5 470.5 1184 468Z"/>
<path fill="#a6cbff" d="M1194.8 466.5 1197.5 466 1199.5 464.5 1201.5 466 1200.5 467.5 1196.5 467.8Z"/>
<path fill="#a6cbff" d="M238.4 643.8 239.7 643.4 242.6 644.7 244.3 647.2 250.1 647.2 253.5 648.5 257.3 649.7 260.2 651.8 262.3 652.7 261.9 654.3 259.4 654.3 251 653.1 245.9 653.5 243.4 650.6 239.2 648 238.4 646Z"/>
<path fill="#a6cbff" d="M249.7 665.7 251.8 665.7 255.2 669 256.9 671.5 254.8 672.8 251.8 671.5 251 669 249.3 666.9Z"/>
<path fill="#a6cbff" d="M264 665.5 265.5 665.4 266.8 666.8 265.5 668.4 264 668.4Z"/>
<path fill="#a6cbff" d="M272.4 668.6 274.5 668.2 277.4 670.3 279.5 673.6 278.7 676.2 276.6 676.2 273.6 673.6 272.4 671.1Z"/>
<path fill="#a6cbff" d="M269.4 678.7 271.5 678.3 273.2 681.2 275.3 685.4 275.3 687.5 272 687.5 269.9 683.3 269 680.4Z"/>
<path fill="#a6cbff" d="M213.6 542.6 215.5 541.9 217.3 543.5 217.8 546.3 216.4 547.7 214.6 546.9 213.4 545Z"/>
<path fill="#0056da" d="M1046.9 919.2 1050 916 1054 913 1058 911 1062.5 910.2 1063.2 911.8 1059 914.2 1054 916.6 1050 918.3Z"/><path fill="none" d="M1062.9 911.6 1066.4 911.1 1069.9 909.2 1073.6 906.2"/>
</g>
<g>
<rect x="159.9" y="1007.2" width="501.2" height="17.4" rx="1.5" fill="#000"/>
<rect x="194" y="1009.3" width="29" height="13.8" fill="#fff"/>
<rect x="256.5" y="1009.3" width="29" height="13.8" fill="#fff"/>
<rect x="412" y="1009.3" width="122.3" height="13.8" fill="#fff"/>
<text x="152" y="1060.5" font-size="32.8">0</text>
<text x="196" y="1060.5" font-size="32.8">175</text>
<text x="259" y="1060.5" font-size="32.8">350</text>
<text x="383" y="1060.5" font-size="32.8">700</text>
<text x="494" y="1060.5" font-size="32.8">1,050</text>
<text x="618" y="1060.5" font-size="32.8">1,400</text>
<text x="666.2" y="1023.8" font-size="33">Miles</text>
<text x="795" y="1015" font-size="35.2" font-weight="bold">Total Shoreline Length (mi)</text>
<rect x="800.5" y="1044.5" width="87" height="43" fill="#f8f6e0" stroke="#000" stroke-width="1.1"/>
<text x="902" y="1078.6" font-size="32.3">0 - 50,000</text>
<rect x="800.5" y="1103.5" width="87" height="44" fill="#d8d3c1" stroke="#000" stroke-width="1.1"/>
<text x="902" y="1137.6" font-size="32.3">50,000 - 100,000</text>
<rect x="800.5" y="1162.5" width="87" height="44" fill="#a6cbff" stroke="#000" stroke-width="1.1"/>
<text x="902" y="1196.6" font-size="32.3">100,000 - 200,000</text>
<rect x="800.5" y="1222.5" width="87" height="43" fill="#68a8ff" stroke="#000" stroke-width="1.1"/>
<text x="902" y="1256.6" font-size="32.3">200,000 - 300,000</text>
<rect x="800.5" y="1281.5" width="87" height="43" fill="#2a7bff" stroke="#000" stroke-width="1.1"/>
<text x="902" y="1315.6" font-size="32.3">300,000 - 400,000</text>
<rect x="800.5" y="1340.5" width="87" height="43" fill="#0056da" stroke="#000" stroke-width="1.1"/>
<text x="902" y="1374.6" font-size="32.3">400,000 - 500,000</text>
</g>
</svg>
</body></html>
